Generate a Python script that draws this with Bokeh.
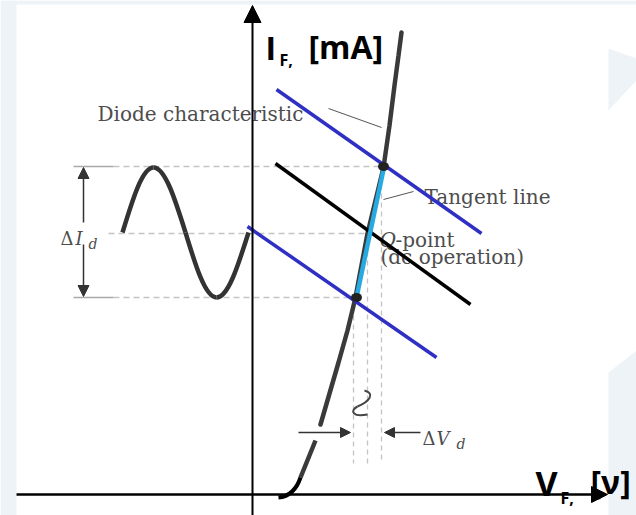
from bokeh.plotting import figure
from bokeh.models import Range1d, Arrow, NormalHead
from bokeh.core.properties import value
from bokeh.embed import file_html
from bokeh.resources import INLINE

W, H = 636, 515

# ---- geometry of the sketch (screen-like units, y grows downward) ----
# diode characteristic, piece above the delta-V arrow
curve_x = [401, 398, 394, 389, 383, 375, 367, 361, 355, 347, 338, 329, 320]
curve_y = [32, 55, 85, 125, 167, 200, 233, 265, 297, 330, 362, 393, 424]
# piece below the arrow and the knee near the origin
knee_x = [315, 300]
knee_y = [440, 477]
knee_end = (278, 497)

# operating point and the two excursion points
q_point = (367, 233)
hi_point = (383, 166)
lo_point = (356, 297)

# load lines: upper, centre (dc) and lower
load_hi = ([276, 481], [89, 233])
load_dc = ([275, 470], [163, 304])
load_lo = ([247, 436], [226, 357])

# ac input signal: zero crossings and peaks of one period
sine_x = [122, 153, 185, 216, 248]
sine_y = [232, 167, 232, 297, 232]

# axis ends
origin = (252, 494)
x_axis_end = 607
y_axis_end = 5

p = figure(width=W, height=H, x_range=Range1d(0, W), y_range=Range1d(H, 0),
           output_backend="svg", toolbar_location=None, min_border=0,
           x_axis_location=None, y_axis_location=None)
p.grid.visible = False
p.outline_line_color = None
p.background_fill_color = "white"
p.border_fill_color = "white"

# pale slide decoration around the edges
pale = "#eef3f8"
p.quad(left=[0, 0], right=[16, W], top=[0, 0], bottom=[H, 4], fill_color=pale, line_color=None)
p.patch([608, 636, 636, 608], [48, 58, 80, 110], fill_color=pale, line_color=None)
p.patch([608, 636, 636, 608], [372, 350, 515, 515], fill_color=pale, line_color=None)

# guide lines
gcol = "#c4c4c4"
p.multi_line(xs=[[113, hi_point[0]], [108, q_point[0]], [113, lo_point[0]]],
             ys=[[hi_point[1]] * 2, [q_point[1]] * 2, [lo_point[1]] * 2],
             line_color=gcol, line_width=1.3, line_dash="6 4")
p.multi_line(xs=[[73, 113], [73, 113]], ys=[[hi_point[1]] * 2, [lo_point[1]] * 2],
             line_color="#a8a8a8", line_width=1.3)
p.multi_line(xs=[[lo_point[0] - 3] * 2, [q_point[0]] * 2, [hi_point[0] - 2] * 2],
             ys=[[lo_point[1], 463], [q_point[1], 463], [hi_point[1], 463]],
             line_color=gcol, line_width=1.3, line_dash="5 4")

# serif annotation texts
serif = value("DejaVu Serif")
tcol = "#4d4d4d"
fs = "20px"
ms = "18px"
p.text(x=[97], y=[113], text=["Diode characteristic"], text_font=serif, text_font_size=fs,
       text_color=tcol, text_baseline="alphabetic")
p.text(x=[424], y=[196], text=["Tangent line"], text_font=serif, text_font_size=fs,
       text_color=tcol, text_baseline="alphabetic")
p.text(x=[379], y=[239], text=["Q"], text_font=serif, text_font_size=fs, text_font_style="italic",
       text_color=tcol, text_baseline="alphabetic")
p.text(x=[395], y=[239], text=["-point"], text_font=serif, text_font_size=fs,
       text_color=tcol, text_baseline="alphabetic")
p.text(x=[380], y=[256], text=["(dc operation)"], text_font=serif, text_font_size=fs,
       text_color=tcol, text_baseline="alphabetic")
p.text(x=[60], y=[238], text=["\u0394"], text_font=serif, text_font_size=ms,
       text_color=tcol, text_baseline="alphabetic")
p.text(x=[75], y=[238], text=["I"], text_font=serif, text_font_size=ms, text_font_style="italic",
       text_color=tcol, text_baseline="alphabetic")
p.text(x=[88], y=[243], text=["d"], text_font=serif, text_font_size="14px", text_font_style="italic",
       text_color=tcol, text_baseline="alphabetic")
p.text(x=[422], y=[438], text=["\u0394"], text_font=serif, text_font_size=ms,
       text_color=tcol, text_baseline="alphabetic")
p.text(x=[436], y=[438], text=["V"], text_font=serif, text_font_size=ms, text_font_style="italic",
       text_color=tcol, text_baseline="alphabetic")
p.text(x=[456], y=[443], text=["d"], text_font=serif, text_font_size="14px", text_font_style="italic",
       text_color=tcol, text_baseline="alphabetic")

# leader lines
p.multi_line(xs=[[328, 381], [383, 413]], ys=[[108, 127], [199, 191]],
             line_color="#555555", line_width=1)

# delta-I double arrow (split around its label)
acol = "#333333"
p.add_layout(Arrow(x_start=83, y_start=222, x_end=83, y_end=hi_point[1] + 1,
                   end=NormalHead(size=11, fill_color=acol, line_color=acol),
                   line_color=acol, line_width=1.5))
p.add_layout(Arrow(x_start=83, y_start=244, x_end=83, y_end=lo_point[1] - 1,
                   end=NormalHead(size=11, fill_color=acol, line_color=acol),
                   line_color=acol, line_width=1.5))

# delta-V arrows
p.add_layout(Arrow(x_start=298, y_start=432, x_end=350, y_end=432,
                   end=NormalHead(size=10, fill_color=acol, line_color=acol),
                   line_color=acol, line_width=1.5))
p.add_layout(Arrow(x_start=420, y_start=432, x_end=384, y_end=432,
                   end=NormalHead(size=10, fill_color=acol, line_color=acol),
                   line_color=acol, line_width=1.5))

# break mark on the voltage guide lines
p.bezier(x0=[364, 357], y0=[390, 406], x1=[357, 367], y1=[406, 414],
         cx0=[375, 349], cy0=[393, 410], cx1=[369, 352], cy1=[401, 417],
         line_color="#444444", line_width=2)

# ac input sine, one cubic per quarter period
k1, k2, k3 = 0.3261, 0.6381, 0.5123
sx0, sy0, sx1, sy1, c0x, c0y, c1x, c1y = [], [], [], [], [], [], [], []
for i in range(len(sine_x) - 1):
    xa, ya, xb, yb = sine_x[i], sine_y[i], sine_x[i + 1], sine_y[i + 1]
    dx = xb - xa
    sx0.append(xa); sy0.append(ya); sx1.append(xb); sy1.append(yb)
    if i % 2 == 0:  # zero crossing -> peak
        c0x.append(xa + k1 * dx); c0y.append(ya + k3 * (yb - ya))
        c1x.append(xa + k2 * dx); c1y.append(yb)
    else:  # peak -> zero crossing
        c0x.append(xb - k2 * dx); c0y.append(ya)
        c1x.append(xb - k1 * dx); c1y.append(yb + k3 * (ya - yb))
p.bezier(x0=sx0, y0=sy0, x1=sx1, y1=sy1, cx0=c0x, cy0=c0y, cx1=c1x, cy1=c1y,
         line_color="#333333", line_width=4.5)

# diode characteristic
p.line(curve_x, curve_y, line_color="#3a3a3a", line_width=4.5, line_cap="round")
p.line(knee_x, knee_y, line_color="#3a3a3a", line_width=4.5)
p.bezier(x0=[knee_x[-1]], y0=[knee_y[-1]], x1=[knee_end[0]], y1=[knee_end[1]],
         cx0=[296], cy0=[489], cx1=[288], cy1=[496], line_color="black", line_width=4)

# axes with arrow heads
p.add_layout(Arrow(x_start=origin[0], y_start=H, x_end=origin[0], y_end=y_axis_end,
                   end=NormalHead(size=17, fill_color="black", line_color="black"),
                   line_color="black", line_width=2))
p.add_layout(Arrow(x_start=16, y_start=origin[1], x_end=x_axis_end, y_end=origin[1],
                   end=NormalHead(size=16, fill_color="black", line_color="black"),
                   line_color="black", line_width=2.5))

# load lines and tangent
p.line(*load_hi, line_color="#2f2fc4", line_width=3.5)
p.line(*load_lo, line_color="#2f2fc4", line_width=3.5)
p.line(*load_dc, line_color="black", line_width=3.5)
p.line([hi_point[0], lo_point[0]], [hi_point[1] + 3, lo_point[1]], line_color="#27aae1", line_width=4.5)
p.ellipse(x=[hi_point[0], lo_point[0]], y=[hi_point[1], lo_point[1]], width=11, height=9,
          fill_color="#222222", line_color=None)

# axis titles
sans = value("Open Sans")
p.text(x=[265], y=[47], text=["I"], text_font=sans, text_font_size="32px", text_font_style="bold",
       text_color="black", text_baseline="alphabetic")
p.text(x=[279], y=[59], text=["F,"], text_font=sans, text_font_size="16px", text_font_style="bold",
       text_color="black", text_baseline="alphabetic")
p.text(x=[308], y=[46], text=["[mA]"], text_font=sans, text_font_size="32px", text_font_style="bold",
       text_color="black", text_baseline="alphabetic")
p.text(x=[535], y=[482], text=["V"], text_font=sans, text_font_size="34px", text_font_style="bold",
       text_color="black", text_baseline="alphabetic")
p.text(x=[560], y=[497], text=["F,"], text_font=sans, text_font_size="16px", text_font_style="bold",
       text_color="black", text_baseline="alphabetic")
p.text(x=[590], y=[481], text=["[\u03bd]"], text_font=sans, text_font_size="32px", text_font_style="bold",
       text_color="black", text_baseline="alphabetic")

open("out.html", "w").write(file_html(p, INLINE))
